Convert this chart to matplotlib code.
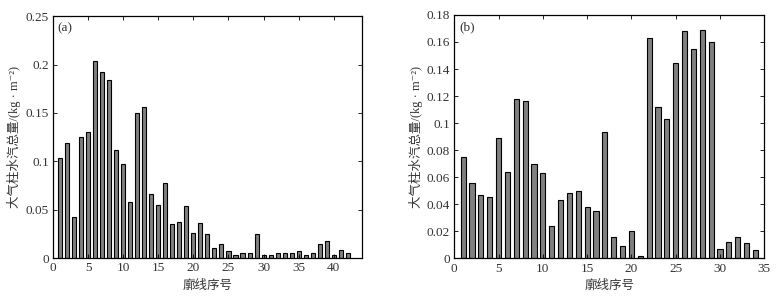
import matplotlib
matplotlib.use("Agg")
import matplotlib.pyplot as plt
import numpy as np

plt.rcParams['font.family'] = ['Liberation Serif', 'Noto Sans CJK SC', 'DejaVu Sans']

# Panel (a) data
a_values = [0.103, 0.119, 0.042, 0.125, 0.130, 0.204, 0.192, 0.184, 0.112, 0.097,
            0.058, 0.150, 0.156, 0.066, 0.055, 0.078, 0.035, 0.037, 0.054, 0.026,
            0.036, 0.025, 0.010, 0.014, 0.0076, 0.0028, 0.0055, 0.0048, 0.0245, 0.0034,
            0.0028, 0.0055, 0.0048, 0.0048, 0.0069, 0.0028, 0.0048, 0.0148, 0.0172, 0.0034,
            0.008, 0.0055]
a_x = list(range(1, len(a_values) + 1))
a_xticks = [0, 5, 10, 15, 20, 25, 30, 35, 40]
a_yticks = [0, 0.05, 0.1, 0.15, 0.2, 0.25]
a_yticklabels = ['0', '0.05', '0.1', '0.15', '0.2', '0.25']

# Panel (b) data
b_values = [0.075, 0.056, 0.047, 0.0454, 0.0888, 0.0636, 0.118, 0.1164, 0.0698, 0.0634,
            0.0239, 0.0429, 0.0483, 0.0496, 0.0377, 0.0353, 0.0937, 0.0155, 0.0091, 0.0202,
            0.0017, 0.163, 0.1117, 0.1028, 0.1442, 0.168, 0.1548, 0.169, 0.160, 0.0069,
            0.0118, 0.016, 0.0113, 0.0062]
b_x = list(range(1, len(b_values) + 1))
b_xticks = [0, 5, 10, 15, 20, 25, 30, 35]
b_yticks = [0, 0.02, 0.04, 0.06, 0.08, 0.1, 0.12, 0.14, 0.16, 0.18]
b_yticklabels = ['0', '0.02', '0.04', '0.06', '0.08', '0.1', '0.12', '0.14', '0.16', '0.18']

ylabel = '大气柱水汽总量/(kg · m⁻²)'
xlabel = '廓线序号'

fig = plt.figure(figsize=(7.76, 2.99), dpi=100)
ax1 = fig.add_axes([0.0683, 0.137, 0.398, 0.809])
ax2 = fig.add_axes([0.5854, 0.136, 0.3995, 0.814])

def style(ax, x, vals, xlim, ylim, xticks, yticks, yticklabels, tag):
    ax.bar(x, vals, width=0.58, color='#808080', edgecolor='black', linewidth=0.8)
    ax.set_xlim(*xlim)
    ax.set_ylim(*ylim)
    ax.set_xticks(xticks)
    ax.set_yticks(yticks)
    ax.set_yticklabels(yticklabels)
    ax.tick_params(direction='in', top=True, right=True, labelsize=9.5, length=3,
                   width=0.6, pad=3, colors='black', labelcolor='#333333')
    for s in ax.spines.values():
        s.set_linewidth(0.9)
    ax.set_xlabel(xlabel, fontsize=9, labelpad=4, color='#333333')
    ax.set_ylabel(ylabel, fontsize=9, labelpad=3, color='#333333')
    ax.text(0.015, 0.975, tag, transform=ax.transAxes, ha='left', va='top',
            fontsize=9.5, color='#333333')

style(ax1, a_x, a_values, (0, 44), (0, 0.25), a_xticks, a_yticks, a_yticklabels, '(a)')
style(ax2, b_x, b_values, (0, 35), (0, 0.18), b_xticks, b_yticks, b_yticklabels, '(b)')

fig.savefig('out.png', dpi=100)
